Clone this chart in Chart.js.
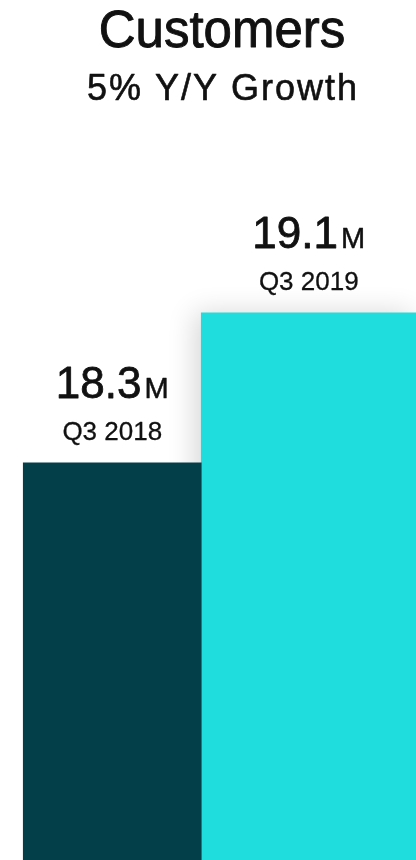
<!DOCTYPE html>
<html>
<head>
<meta charset="utf-8">
<script src="https://cdn.jsdelivr.net/npm/chart.js@4/dist/chart.umd.min.js"></script>
<style>
  html, body { margin: 0; padding: 0; background: #fff; }
  canvas { display: block; }
</style>
</head>
<body>
<canvas id="customers" width="416" height="860"></canvas>
<script>
// Customer counts, in millions
const quarters = ["Q3 2018", "Q3 2019"];
const customers = [18.3, 19.1];
const unit = "M";
const title = "Customers";
const subtitle = "5% Y/Y Growth";

const BAR_COLORS = ["#023f48", "#1edddc"];
const BAR_WIDTHS = [178, 215];//px, the newer quarter is drawn wider
const FONT = '"Liberation Sans", Arial, sans-serif';
const INK = "#111111";

// one dataset per quarter so each bar can get its own width
const datasets = customers.map(function (v, i) {
    return {
        data: customers.map(function (_, j) { return j === i ? v : null; }),
        backgroundColor: BAR_COLORS[i],
        barThickness: BAR_WIDTHS[i],
        grouped: false,
        clip: false
    };
});

// soft drop shadow behind the highlighted bar
const barShadow = {
    id: "barShadow",
    beforeDatasetDraw(chart, args) {
        if (args.index !== 1) return;
        const ctx = chart.ctx;
        ctx.save();
        ctx.shadowColor = "rgba(0,0,0,0.16)";
        ctx.shadowBlur = 26;
        ctx.shadowOffsetX = -6;
        ctx.shadowOffsetY = 0;
    },
    afterDatasetDraw(chart, args) {
        if (args.index !== 1) return;
        chart.ctx.restore();
    }
};

// fill + thin stroke, the regular face is a touch too light otherwise
function heavyText(ctx, text, x, y, stroke) {
    ctx.fillText(text, x, y);
    if (stroke) {
        ctx.lineWidth = stroke;
        ctx.strokeText(text, x, y);
    }
}

// value + quarter above each bar, heading at the top
const barLabels = {
    id: "barLabels",
    afterDraw(chart) {
        const ctx = chart.ctx;
        ctx.save();
        ctx.fillStyle = INK;
        ctx.strokeStyle = INK;
        ctx.lineJoin = "round";
        ctx.textBaseline = "alphabetic";

        ctx.textAlign = "center";
        ctx.font = "51px " + FONT;
        heavyText(ctx, title, 222, 47, 0.9);
        ctx.font = "36px " + FONT;
        ctx.letterSpacing = "2px";
        heavyText(ctx, subtitle, 223, 100, 0.6);
        ctx.letterSpacing = "0px";

        chart.data.datasets.forEach(function (ds, i) {
            const bar = chart.getDatasetMeta(i).data[i];
            if (!bar) return;
            const num = customers[i].toFixed(1);
            ctx.font = "44px " + FONT;
            const wNum = ctx.measureText(num).width;
            ctx.font = "29px " + FONT;
            const wUnit = ctx.measureText(unit).width;
            const gap = 3;
            const left = bar.x - (wNum + gap + wUnit) / 2;
            ctx.textAlign = "left";
            ctx.font = "44px " + FONT;
            heavyText(ctx, num, left, bar.y - 65, 0.8);
            ctx.font = "29px " + FONT;
            heavyText(ctx, unit, left + wNum + gap, bar.y - 65, 0.5);

            ctx.textAlign = "center";
            ctx.font = "26px " + FONT;
            heavyText(ctx, quarters[i], bar.x, bar.y - 23, 0.3);
        });
        ctx.restore();
    }
};

new Chart(document.getElementById("customers"), {
    type: "bar",
    data: { labels: quarters, datasets: datasets },
    options: {
        responsive: false,
        animation: false,
        layout: { padding: { left: 14, right: 9, top: 0, bottom: 0 } },
        scales: {
            x: { display: false, offset: true },
            y: { display: false, min: 16.18, max: 20.77 }
        },
        plugins: {
            legend: { display: false },
            tooltip: { enabled: false }
        }
    },
    plugins: [barShadow, barLabels]
});
</script>
</body>
</html>
